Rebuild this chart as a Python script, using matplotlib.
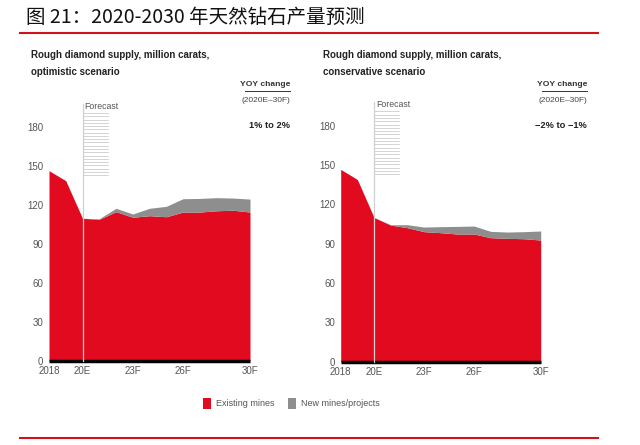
import numpy as np
import matplotlib
matplotlib.use("Agg")
import matplotlib.pyplot as plt
from matplotlib.lines import Line2D
from matplotlib.patches import Rectangle

years = list(range(2018, 2031))
tick_years = [2018, 2020, 2023, 2026, 2030]
tick_labels = ['2018', '20E', '23F', '26F', '30F']
y_ticks = [0, 30, 60, 90, 120, 150, 180]

# optimistic scenario (million carats)
opt_existing = [146.5, 138.8, 109.8, 109.0, 114.9, 110.6, 111.8, 111.0, 114.6, 114.6, 115.6, 116.0, 114.6]
opt_new = [0, 0, 0, 0.5, 2.6, 2.5, 5.7, 8.0, 10.3, 10.5, 10.1, 9.4, 10.0]

# conservative scenario
con_existing = [146.7, 139.0, 110.0, 104.2, 102.2, 99.2, 98.4, 97.4, 97.4, 94.6, 94.1, 93.8, 92.8]
con_new = [0, 0, 0, 0.3, 2.3, 3.5, 4.6, 5.8, 6.1, 4.8, 4.8, 5.4, 6.9]

RED = '#e20a1e'
GREY = '#8e8e8e'
NARROW = ['Liberation Sans Narrow', 'Liberation Sans', 'DejaVu Sans']

W, H = 640, 445
fig = plt.figure(figsize=(6.4, 4.45), dpi=100)


def fx(px):
    return px / W


def fy(py):
    return 1 - py / H


def draw_panel(left, right, zero_y, top_y, existing, new):
    ax = fig.add_axes([fx(left), fy(zero_y), fx(right - left), (zero_y - top_y) / H])
    ex = np.array(existing)
    tot = ex + np.array(new)
    ax.fill_between(years, 0, ex, color=RED, lw=0)
    ax.fill_between(years, ex, tot, color=GREY, lw=0)
    ax.set_xlim(2018, 2030)
    ax.set_ylim(0, 200)
    for s in ['top', 'right', 'left']:
        ax.spines[s].set_visible(False)
    ax.spines['bottom'].set_linewidth(2.5)
    ax.spines['bottom'].set_color('black')
    ax.spines['bottom'].set_capstyle('butt')
    ax.set_xticks(tick_years)
    ax.set_xticklabels(tick_labels)
    ax.set_yticks(y_ticks)
    ax.tick_params(length=0, labelsize=7, colors='#555555', pad=4)
    for lab in ax.get_xticklabels() + ax.get_yticklabels():
        lab.set_family(NARROW)
    # forecast marker
    ax.plot([2020, 2020], [0, 198], color='#d0d0d0', lw=0.9, clip_on=False, zorder=3)
    for yy in np.linspace(143, 191, 20):
        ax.plot([2020, 2021.5], [yy, yy], color='#c4c4c4', lw=0.5, zorder=2)
    ax.text(2020.12, 196, 'Forecast', fontsize=6.3, color='#555555', family=NARROW,
            va='center', ha='left')
    return ax


draw_panel(49, 250, 360.7, 101.3, opt_existing, opt_new)
draw_panel(340.7, 540.7, 361.7, 99.5, con_existing, con_new)

# title and rules
fig.text(fx(26), fy(17), '图 21：2020-2030 年天然钻石产量预测', fontsize=14,
         family=['Noto Sans CJK SC', 'DejaVu Sans'], va='center', ha='left', color='#111111')
fig.add_artist(Line2D([fx(20), fx(598)], [fy(32.5), fy(32.5)], color='#d0121b', lw=1.5))
fig.add_artist(Line2D([fx(20), fx(598)], [fy(438), fy(438)], color='#d0121b', lw=1.5))

# panel headings
for x0, scen, xr, yoy in [(31, 'optimistic scenario', 290, '1% to 2%'),
                          (323, 'conservative scenario', 587, '\u22122% to \u22121%')]:
    fig.text(fx(x0), fy(55), 'Rough diamond supply, million carats,', fontsize=7.0,
             weight='bold', family=NARROW, va='center', color='#222222')
    fig.text(fx(x0), fy(72), scen, fontsize=7.0, weight='bold', family=NARROW,
             va='center', color='#222222')
    fig.text(fx(xr), fy(85), 'YOY change', fontsize=6.1, weight='bold', family=NARROW,
             ha='right', va='center', color='#333333')
    fig.add_artist(Line2D([fx(xr - 45), fx(xr)], [fy(90.5), fy(90.5)], color='#333333', lw=0.7))
    fig.text(fx(xr), fy(101), '(2020E\u201330F)', fontsize=6.0, family=NARROW,
             ha='right', va='center', color='#444444')
    fig.text(fx(xr), fy(125), yoy, fontsize=6.7, weight='bold', family=NARROW,
             ha='right', va='center', color='#222222')

# legend
fig.add_artist(Rectangle((fx(203), fy(409)), fx(8), 11 / H, color=RED, lw=0))
fig.text(fx(216), fy(403), 'Existing mines', fontsize=6.5, family=NARROW,
         va='center', color='#555555')
fig.add_artist(Rectangle((fx(288), fy(409)), fx(8), 11 / H, color=GREY, lw=0))
fig.text(fx(301), fy(403), 'New mines/projects', fontsize=6.5, family=NARROW,
         va='center', color='#555555')

fig.savefig('out.png', dpi=100)
